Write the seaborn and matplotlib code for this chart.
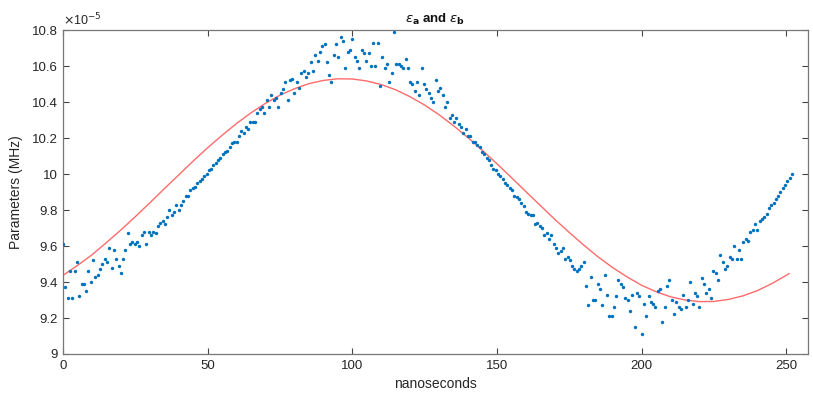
import numpy as np
import pandas as pd
import matplotlib
matplotlib.use("Agg")
import matplotlib.pyplot as plt
import seaborn as sns
from matplotlib.ticker import FuncFormatter

# ---------------- data (values in units of 1e-5) ----------------
sample_step_ns = 0.8
measured = [
    9.61, 9.37, 9.31, 9.46, 9.31, 9.46, 9.51, 9.32, 9.39, 9.39, 9.35, 9.46, 9.40, 9.52,
    9.43, 9.44, 9.47, 9.50, 9.53, 9.51, 9.59, 9.48, 9.58, 9.53, 9.49, 9.45, 9.53, 9.58,
    9.67, 9.61, 9.62, 9.61, 9.62, 9.60, 9.66, 9.68, 9.61, 9.68, 9.66, 9.68, 9.67, 9.71,
    9.73, 9.74, 9.72, 9.76, 9.80, 9.77, 9.79, 9.83, 9.80, 9.83, 9.85, 9.88, 9.88, 9.91,
    9.92, 9.93, 9.95, 9.96,
    9.97, 9.99, 10.00, 10.02, 10.03, 10.05, 10.06, 10.08, 10.09, 10.11, 10.12, 10.13,
    10.15, 10.17, 10.18, 10.18, 10.21, 10.24, 10.23, 10.26, 10.25, 10.29, 10.29, 10.29,
    10.34, 10.36, 10.37, 10.34, 10.41, 10.37, 10.44, 10.41, 10.42, 10.37, 10.45, 10.47,
    10.51, 10.41, 10.52, 10.53, 10.45, 10.51, 10.48, 10.56, 10.57, 10.54, 10.56, 10.62,
    10.57, 10.66, 10.63, 10.68, 10.71, 10.72, 10.62, 10.55, 10.51,
    10.66, 10.72, 10.65, 10.76, 10.74, 10.59, 10.68, 10.69, 10.75, 10.65, 10.63, 10.59,
    10.69, 10.67, 10.63, 10.67, 10.60, 10.73, 10.60, 10.73, 10.49, 10.65, 10.59, 10.61,
    10.51, 10.56, 10.79, 10.61, 10.61, 10.60, 10.59, 10.64, 10.59, 10.51, 10.50, 10.46,
    10.51, 10.44, 10.59, 10.50, 10.47, 10.45, 10.42, 10.40, 10.52, 10.46, 10.48, 10.44,
    10.37, 10.40, 10.31, 10.33, 10.29, 10.31, 10.28,
    10.26, 10.23, 10.25, 10.21, 10.21, 10.18, 10.18, 10.16, 10.15, 10.12, 10.11, 10.09,
    10.08, 10.05, 10.03, 10.02, 10.00, 9.99, 9.97, 9.95, 9.94, 9.92, 9.91, 9.88, 9.87,
    9.86, 9.84, 9.82, 9.79, 9.78, 9.77, 9.77, 9.72, 9.73, 9.71, 9.70, 9.66, 9.67, 9.64,
    9.66, 9.61, 9.59, 9.56, 9.57, 9.59, 9.53, 9.54,
    9.52, 9.49, 9.47, 9.46,
    9.47, 9.49, 9.51, 9.38, 9.27, 9.43, 9.30, 9.30, 9.39, 9.36, 9.27, 9.44, 9.33, 9.21,
    9.21, 9.26, 9.32, 9.41, 9.39, 9.37, 9.31, 9.30, 9.24, 9.33, 9.15, 9.34, 9.32, 9.11,
    9.28, 9.21, 9.32, 9.29, 9.28, 9.26, 9.35, 9.36, 9.18, 9.26, 9.38, 9.41, 9.30, 9.22,
    9.29, 9.26, 9.25, 9.33, 9.26, 9.30, 9.40, 9.28, 9.34, 9.32, 9.26, 9.42, 9.39, 9.34,
    9.36,
    9.31, 9.46, 9.45, 9.41, 9.55, 9.51, 9.47, 9.49, 9.54, 9.53, 9.60, 9.53, 9.58, 9.53,
    9.62, 9.64, 9.63, 9.68, 9.69, 9.72, 9.69, 9.74, 9.75, 9.76, 9.78, 9.81, 9.83, 9.84,
    9.86, 9.88, 9.90, 9.92, 9.94, 9.96, 9.98, 10.00,
]
fit_t = [0, 5, 10, 15, 20, 25, 30, 35, 40, 45, 50, 55, 60, 65, 70, 75, 80, 85, 90, 95,
         100, 105, 110, 115, 120, 125, 130, 135, 140, 145, 150, 155, 160, 165, 170, 175,
         180, 185, 190, 195, 200, 205, 210, 215, 220, 225, 230, 235, 240, 245, 250, 251]
fit_vals = [9.437, 9.492, 9.551, 9.619, 9.689, 9.763, 9.840, 9.918, 9.995, 10.072,
            10.146, 10.215, 10.281, 10.340, 10.393, 10.438, 10.474, 10.502, 10.520, 10.529,
            10.528, 10.517, 10.497, 10.468, 10.429, 10.383, 10.329, 10.268, 10.202, 10.131,
            10.057, 9.980, 9.902, 9.825, 9.748, 9.675, 9.605, 9.539, 9.480, 9.428,
            9.382, 9.346, 9.318, 9.300, 9.291, 9.292, 9.303, 9.323, 9.352, 9.391,
            9.437, 9.447]
x_ticks = [0, 50, 100, 150, 200, 250]
y_ticks = [9.0, 9.2, 9.4, 9.6, 9.8, 10.0, 10.2, 10.4, 10.6, 10.8]
scale = 1e-5

df_meas = pd.DataFrame({"t": np.arange(len(measured)) * sample_step_ns,
                        "v": np.array(measured) * scale})
df_fit = pd.DataFrame({"t": fit_t, "v": np.array(fit_vals) * scale})

# ---------------- style ----------------
sns.set_theme(style="white")
plt.rcParams["font.family"] = ["Liberation Sans", "DejaVu Sans"]

fig = plt.figure(figsize=(8.13, 3.95), dpi=100)
ax = fig.add_axes([0.0775, 0.1038, 0.9163, 0.8202])

sns.scatterplot(data=df_meas, x="t", y="v", ax=ax, color="#0072BD", s=6,
                linewidth=0, marker="o", legend=False, zorder=3)
sns.lineplot(data=df_fit, x="t", y="v", ax=ax, color="#FF6B6B", linewidth=1.0,
             legend=False, zorder=2)

ax.set_xlim(0, 257.5)
ax.set_ylim(9.0 * scale, 10.8 * scale)
ax.set_xticks(x_ticks)
ax.set_yticks([v * scale for v in y_ticks])
ax.yaxis.set_major_formatter(FuncFormatter(lambda v, p: f"{round(v / scale, 4):g}"))
ax.xaxis.set_major_formatter(FuncFormatter(lambda v, p: f"{v:g}"))

for s in ax.spines.values():
    s.set_visible(True)
    s.set_color("#777777")
    s.set_linewidth(0.9)
ax.tick_params(axis="both", which="both", direction="in", length=4, width=0.8,
               color="#444444", labelsize=9.5, labelcolor="#262626",
               top=True, right=True, bottom=True, left=True, pad=4)

ax.set_xlabel("nanoseconds", fontsize=10, color="#262626", labelpad=4)
ax.set_ylabel("Parameters (MHz)", fontsize=10, color="#262626", labelpad=6)
ax.set_title(r"$\epsilon_{\mathbf{a}}$ and $\epsilon_{\mathbf{b}}$", fontsize=9.5,
             fontweight="bold", color="#111111", pad=5)
ax.text(0.0, 1.005, r"$\times$10$^{-5}$", transform=ax.transAxes, ha="left",
        va="bottom", fontsize=9, color="#262626")

fig.savefig("out.png", dpi=100)
